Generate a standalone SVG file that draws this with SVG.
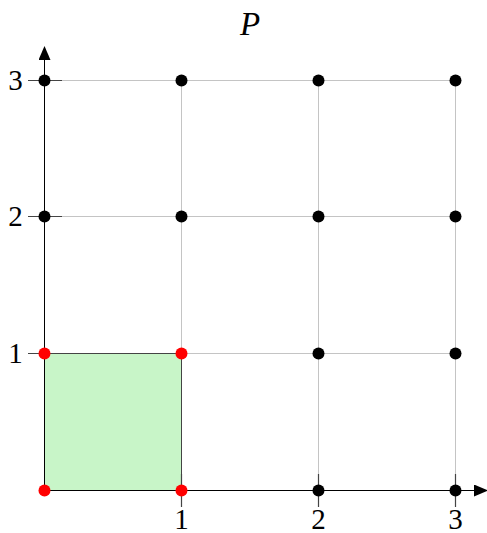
<svg xmlns="http://www.w3.org/2000/svg" width="487" height="533" viewBox="0 0 487 533">
<style>
.grid{stroke:#c4c4c4;stroke-width:1;fill:none}
.axis{stroke:#000;stroke-width:1;fill:none}
.tick{stroke:#444;stroke-width:1.2}
.lbl{font-family:"Liberation Serif",serif;font-size:29px;fill:#000}
.title{font-family:"Liberation Serif",serif;font-size:33px;font-style:italic;fill:#000}
.dot{fill:#000}
.red{fill:#ff0000}
</style>
<defs>
<marker id="ah" viewBox="0 0 14 12" refX="0" refY="6" markerWidth="14" markerHeight="12" markerUnits="userSpaceOnUse" orient="auto">
<path d="M0,0 L14,6 L0,12 Z" fill="#000"/>
</marker>
</defs>
<g id="grid">
<path class="grid" d="M44.5,80.5H455.5M44.5,216.5H455.5M44.5,353.5H455.5M181.5,80.5V490.5M318.5,80.5V490.5M455.5,80.5V490.5"/>
</g>
<g id="square">
<rect x="44.5" y="353.5" width="137" height="137" fill="#c8f5c8" stroke="#444" stroke-width="1"/>
</g>
<g id="connectors">
<line class="axis" x1="44.5" y1="490.5" x2="44.5" y2="60" marker-end="url(#ah)"/>
<line class="axis" x1="44.5" y1="490.5" x2="474" y2="490.5" marker-end="url(#ah)"/>
<path class="tick" d="M28,80.5H62M28,216.5H62M28,353.5H62M181.5,474V507M318.5,474V507M455.5,474V507"/>
</g>
<g id="labels">
<text class="title" x="250" y="35" text-anchor="middle">P</text>
<text class="lbl" x="15.5" y="90" text-anchor="middle">3</text>
<text class="lbl" x="15.5" y="226" text-anchor="middle">2</text>
<text class="lbl" x="15.5" y="363" text-anchor="middle">1</text>
<text class="lbl" x="181.5" y="529" text-anchor="middle">1</text>
<text class="lbl" x="318.5" y="529" text-anchor="middle">2</text>
<text class="lbl" x="455.5" y="529" text-anchor="middle">3</text>
</g>
<g id="points">
<circle class="dot" cx="44.5" cy="80.5" r="6"/>
<circle class="dot" cx="181.5" cy="80.5" r="6"/>
<circle class="dot" cx="318.5" cy="80.5" r="6"/>
<circle class="dot" cx="455.5" cy="80.5" r="6"/>
<circle class="dot" cx="44.5" cy="216.5" r="6"/>
<circle class="dot" cx="181.5" cy="216.5" r="6"/>
<circle class="dot" cx="318.5" cy="216.5" r="6"/>
<circle class="dot" cx="455.5" cy="216.5" r="6"/>
<circle class="dot" cx="318.5" cy="353.5" r="6"/>
<circle class="dot" cx="455.5" cy="353.5" r="6"/>
<circle class="dot" cx="318.5" cy="490.5" r="6"/>
<circle class="dot" cx="455.5" cy="490.5" r="6"/>
<circle class="red" cx="44.5" cy="353.5" r="6"/>
<circle class="red" cx="181.5" cy="353.5" r="6"/>
<circle class="red" cx="44.5" cy="490.5" r="6"/>
<circle class="red" cx="181.5" cy="490.5" r="6"/>
</g>
</svg>
